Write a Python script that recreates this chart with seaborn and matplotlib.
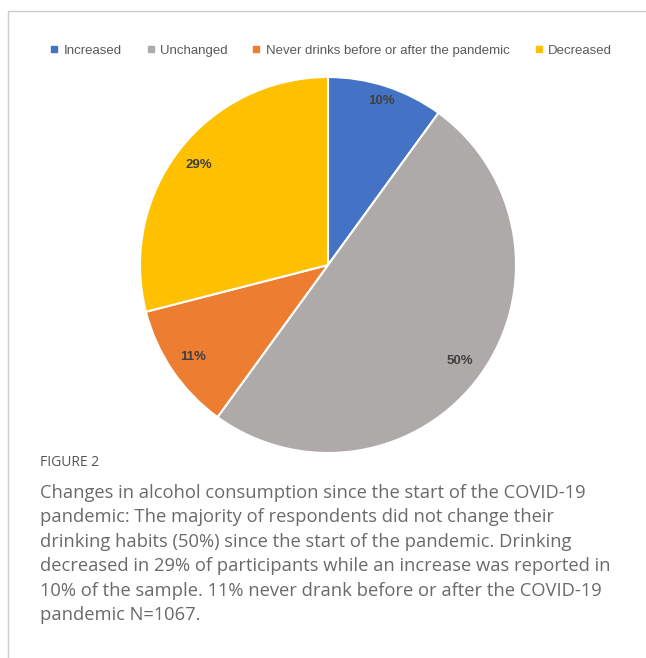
import matplotlib
matplotlib.use("Agg")
import matplotlib.pyplot as plt
from matplotlib.lines import Line2D
import seaborn as sns

categories = ["Increased", "Unchanged", "Never drinks before or after the pandemic", "Decreased"]
values = [10, 50, 11, 29]
colors = ["#4472C4", "#AEAAAA", "#ED7D31", "#FFC000"]
caption_title = "FIGURE 2"
caption_lines = [
    "Changes in alcohol consumption since the start of the COVID-19",
    "pandemic: The majority of respondents did not change their",
    "drinking habits (50%) since the start of the pandemic. Drinking",
    "decreased in 29% of participants while an increase was reported in",
    "10% of the sample. 11% never drank before or after the COVID-19",
    "pandemic N=1067.",
]

sns.set_theme(style="white")
plt.rcParams["font.family"] = ["Liberation Sans", "DejaVu Sans"]

W, H = 646, 658
fig = plt.figure(figsize=(W / 100, H / 100), dpi=100)
fig.patch.set_facecolor("white")

cx, cy, r = 328, 265, 188
ax = fig.add_axes([(cx - r) / W, (H - cy - r) / H, 2 * r / W, 2 * r / H])
wedges, texts, autotexts = ax.pie(
    values, colors=colors, startangle=90, counterclock=False,
    autopct=lambda p: f"{p:.0f}%", pctdistance=0.87,
    wedgeprops=dict(edgecolor="white", linewidth=1.5),
    textprops=dict(color="#404040", fontsize=9.5, fontweight="bold"),
)
# small slice label sits a bit further out
x0, y0 = autotexts[0].get_position()
autotexts[0].set_position((x0 * 0.915 / 0.87, y0 * 0.915 / 0.87))
ax.set_xlim(-1, 1)
ax.set_ylim(-1, 1)
ax.set_aspect("equal")
ax.axis("off")

handles = [Line2D([], [], marker="s", linestyle="none", markersize=5,
                  markerfacecolor=c, markeredgecolor=c) for c in colors]
fig.legend(handles, categories, loc="center", bbox_to_anchor=(331 / W, 1 - 51 / H),
           ncol=4, frameon=False, fontsize=9.5, handlelength=0.6, handletextpad=0.4,
           columnspacing=1.9, labelcolor="#595959")

# frame lines
fig.add_artist(Line2D([8 / W, 1], [1 - 11 / H, 1 - 11 / H], transform=fig.transFigure,
                      color="#cccccc", linewidth=1))
fig.add_artist(Line2D([8 / W, 8 / W], [1 - 11 / H, 0], transform=fig.transFigure,
                      color="#cccccc", linewidth=1))

fig.text(40 / W, 1 - 463 / H, caption_title, fontsize=10, color="#555555",
         family=["Open Sans", "DejaVu Sans"], va="center", ha="left")
for i, line in enumerate(caption_lines):
    fig.text(40 / W, 1 - (493 + i * 24.4) / H, line, fontsize=13.2, color="#6a6a6a",
             family=["Open Sans", "DejaVu Sans"], va="center", ha="left")

fig.savefig("out.png", dpi=100)
